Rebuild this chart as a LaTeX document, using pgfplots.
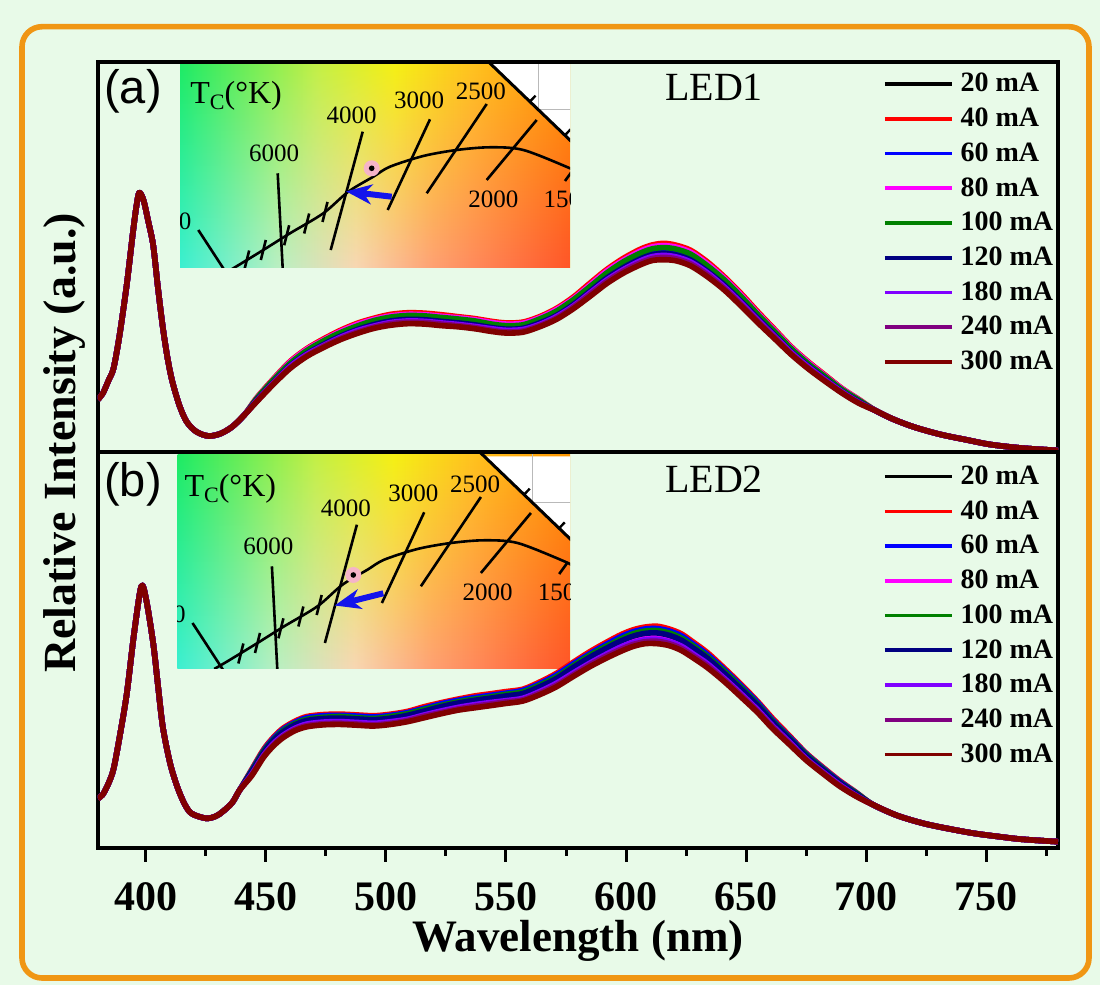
\documentclass[border=0pt]{standalone}
\usepackage{fontspec}
\setmainfont{Liberation Serif}
\newfontfamily\arialfont{Liberation Sans}
\usepackage{pgfplots}
\pgfplotsset{compat=1.18}
\usepackage{pgfplotstable}
\usetikzlibrary{fadings,arrows.meta}

\definecolor{bgc}{RGB}{232,250,232}
\definecolor{orangeb}{RGB}{240,150,20}
\definecolor{c20}{RGB}{0,0,0}
\definecolor{c40}{RGB}{255,0,0}
\definecolor{c60}{RGB}{0,0,255}
\definecolor{c80}{RGB}{255,0,255}
\definecolor{c100}{RGB}{0,128,0}
\definecolor{c120}{RGB}{0,0,128}
\definecolor{c180}{RGB}{128,0,255}
\definecolor{c240}{RGB}{128,0,128}
\definecolor{c300}{RGB}{128,0,0}
\definecolor{pinkdot}{RGB}{245,180,200}
\definecolor{arrowblue}{RGB}{20,20,235}

\definecolor{gt0}{RGB}{30,235,100}
\definecolor{gt1}{RGB}{195,240,70}
\definecolor{gt2}{RGB}{245,240,20}
\definecolor{gt3}{RGB}{255,195,30}
\definecolor{gt4}{RGB}{255,150,0}
\definecolor{gb0}{RGB}{60,240,210}
\definecolor{gb1}{RGB}{185,240,195}
\definecolor{gb2}{RGB}{248,215,180}
\definecolor{gb3}{RGB}{255,160,115}
\definecolor{gb4}{RGB}{255,85,40}
\pgfdeclarehorizontalshading{insettop}{100bp}{color(0bp)=(gt0); color(25bp)=(gt0); color(42.5bp)=(gt1); color(52.5bp)=(gt2); color(62.5bp)=(gt3); color(75bp)=(gt4); color(100bp)=(gt4)}
\pgfdeclarehorizontalshading{insetbot}{100bp}{color(0bp)=(gb0); color(25bp)=(gb0); color(37.5bp)=(gb1); color(47.5bp)=(gb2); color(57.5bp)=(gb3); color(75bp)=(gb4); color(100bp)=(gb4)}

\newcommand{\ciecommon}{%
  \fill[white] (310,0.3) -- (420,0.3) -- (420,106) -- cycle;
  \draw[gray!55, line width=0.7pt] (358.3,-5) -- (358.3,46.4) -- (420,46.4);
  \draw[black, line width=1.5pt] (305,-4.5) -- (420,106);
  \draw[black, line width=1.2pt] (350,38.5) -- (355.5,32.7);
  \draw[black, line width=1.2pt] (385,72.2) -- (390.5,66.4);
  \draw[black, line width=1.3pt] plot[smooth] coordinates {(40,213) (53.3,205.3) (83.3,187) (110,170.3) (143.3,150.3) (168.3,128.7) (193.3,113.7) (210,103.7) (243.3,93) (276.7,87) (310,84.3) (343.3,87) (390,105.3) (400,111)};
  \draw[black, line width=1.3pt] (97.7,110.3) -- (103.2,215);
  \draw[black, line width=1.3pt] (182.7,68.7) -- (150.7,187);
  \draw[black, line width=1.3pt] (250,56.3) -- (207.7,147);
  \draw[black, line width=1.3pt] (306.7,41) -- (246.7,130.3);
  \draw[black, line width=1.3pt] (356.7,57) -- (306.7,117);
  \draw[black, line width=1.3pt] (18.3,167) -- (49.6,215);
  \draw[black, line width=1.3pt] (385,118) -- (393,107);
  \foreach \tx/\ty in {66.7/197.5, 83.3/187, 106.7/172.3, 126.7/160.5, 145/149}{
    \draw[black, line width=1.3pt] (\tx+2.5,\ty-10) -- (\tx-2.5,\ty+10);}
  \node[anchor=base west, inner sep=0pt, font=\fontsize{16}{16}\selectfont] at (10,40.3) {T\raisebox{-3pt}{\fontsize{11}{11}\selectfont C}(°K)};
  \node[anchor=base, inner sep=0pt, font=\fontsize{12.5}{12.5}\selectfont] at (94.2,98.6) {6000};
  \node[anchor=base, inner sep=0pt, font=\fontsize{12.5}{12.5}\selectfont] at (171.7,60.3) {4000};
  \node[anchor=base, inner sep=0pt, font=\fontsize{12.5}{12.5}\selectfont] at (239.2,45.3) {3000};
  \node[anchor=base, inner sep=0pt, font=\fontsize{12.5}{12.5}\selectfont] at (300.8,37) {2500};
  \node[anchor=base, inner sep=0pt, font=\fontsize{12.5}{12.5}\selectfont] at (313.3,144.6) {2000};
  \node[anchor=base west, inner sep=0pt, font=\fontsize{12.5}{12.5}\selectfont] at (363.3,144.6) {1500};
  \node[anchor=base east, inner sep=0pt, font=\fontsize{12.5}{12.5}\selectfont] at (11.7,167) {10000};
}

\pgfplotstableread{
lam c20 c40 c60 c80 c100 c120 c180 c240 c300
380 0.135 0.135 0.135 0.135 0.135 0.135 0.135 0.135 0.135
382 0.150 0.150 0.150 0.150 0.150 0.150 0.150 0.150 0.150
384.5 0.185 0.185 0.185 0.185 0.185 0.185 0.185 0.185 0.185
386.5 0.215 0.215 0.215 0.215 0.215 0.215 0.215 0.215 0.215
389 0.300 0.300 0.300 0.300 0.300 0.300 0.300 0.300 0.300
392 0.430 0.430 0.430 0.430 0.430 0.430 0.430 0.430 0.430
394.5 0.560 0.560 0.560 0.560 0.560 0.560 0.560 0.560 0.560
396 0.630 0.630 0.630 0.630 0.630 0.630 0.630 0.630 0.630
397.2 0.665 0.665 0.665 0.665 0.665 0.665 0.665 0.665 0.665
399 0.645 0.645 0.645 0.645 0.645 0.645 0.645 0.645 0.645
401 0.590 0.590 0.590 0.590 0.590 0.590 0.590 0.590 0.590
403 0.530 0.530 0.530 0.530 0.530 0.530 0.530 0.530 0.530
405 0.420 0.420 0.420 0.420 0.420 0.420 0.420 0.420 0.420
407 0.320 0.320 0.320 0.320 0.320 0.320 0.320 0.320 0.320
409 0.240 0.240 0.240 0.240 0.240 0.240 0.240 0.240 0.240
411 0.180 0.180 0.180 0.180 0.180 0.180 0.180 0.180 0.180
414 0.118 0.118 0.118 0.118 0.118 0.118 0.118 0.118 0.118
417 0.077 0.077 0.077 0.077 0.077 0.077 0.077 0.077 0.077
421 0.052 0.052 0.052 0.052 0.052 0.052 0.052 0.052 0.052
426 0.041 0.041 0.041 0.041 0.041 0.041 0.041 0.041 0.041
431 0.047 0.047 0.047 0.047 0.047 0.047 0.047 0.047 0.047
436 0.065 0.065 0.065 0.065 0.065 0.065 0.065 0.065 0.065
441 0.095 0.095 0.095 0.095 0.095 0.095 0.095 0.095 0.095
446 0.133 0.138 0.134 0.137 0.136 0.132 0.130 0.129 0.128
453 0.180 0.187 0.182 0.185 0.184 0.178 0.176 0.175 0.173
460 0.223 0.232 0.225 0.230 0.227 0.221 0.219 0.216 0.214
467 0.255 0.265 0.258 0.263 0.260 0.252 0.250 0.247 0.245
474 0.279 0.290 0.282 0.287 0.285 0.276 0.273 0.271 0.268
481 0.300 0.312 0.303 0.309 0.306 0.297 0.294 0.291 0.288
488 0.317 0.330 0.320 0.327 0.323 0.314 0.311 0.307 0.304
495 0.330 0.343 0.333 0.340 0.337 0.327 0.323 0.320 0.317
502 0.339 0.353 0.342 0.349 0.346 0.336 0.332 0.329 0.325
509 0.343 0.357 0.346 0.353 0.350 0.340 0.336 0.333 0.329
516 0.342 0.356 0.345 0.352 0.349 0.339 0.335 0.332 0.328
523 0.338 0.352 0.341 0.348 0.345 0.335 0.331 0.328 0.324
530 0.334 0.347 0.337 0.344 0.341 0.331 0.327 0.324 0.321
537 0.329 0.342 0.332 0.339 0.336 0.326 0.322 0.319 0.316
544 0.322 0.335 0.325 0.332 0.328 0.319 0.316 0.312 0.309
550 0.318 0.331 0.321 0.328 0.324 0.315 0.312 0.308 0.305
557 0.320 0.333 0.323 0.330 0.326 0.317 0.314 0.310 0.307
564 0.334 0.347 0.337 0.344 0.341 0.331 0.327 0.324 0.321
571 0.354 0.368 0.358 0.365 0.361 0.350 0.347 0.343 0.340
578 0.382 0.397 0.386 0.393 0.390 0.378 0.374 0.371 0.367
585 0.416 0.433 0.420 0.428 0.424 0.412 0.408 0.404 0.399
592 0.450 0.468 0.455 0.464 0.459 0.446 0.441 0.437 0.432
599 0.478 0.497 0.483 0.492 0.488 0.473 0.468 0.464 0.459
606 0.500 0.520 0.505 0.515 0.510 0.495 0.490 0.485 0.480
611 0.511 0.531 0.516 0.526 0.521 0.506 0.501 0.496 0.491
616 0.514 0.535 0.519 0.529 0.524 0.509 0.504 0.499 0.493
621 0.510 0.530 0.515 0.525 0.520 0.505 0.500 0.495 0.490
627 0.497 0.517 0.502 0.512 0.507 0.492 0.487 0.482 0.477
634 0.468 0.487 0.473 0.482 0.477 0.463 0.459 0.454 0.449
641 0.432 0.449 0.436 0.445 0.441 0.428 0.423 0.419 0.415
648 0.390 0.406 0.394 0.402 0.398 0.386 0.382 0.378 0.374
655 0.345 0.359 0.348 0.355 0.352 0.342 0.338 0.335 0.331
662 0.302 0.314 0.305 0.311 0.308 0.299 0.296 0.293 0.290
669 0.259 0.269 0.262 0.267 0.264 0.256 0.254 0.251 0.249
676 0.222 0.231 0.224 0.229 0.226 0.220 0.218 0.215 0.213
683 0.189 0.197 0.191 0.195 0.193 0.187 0.185 0.183 0.181
690 0.157 0.163 0.159 0.162 0.160 0.155 0.154 0.152 0.151
697 0.130 0.135 0.131 0.134 0.133 0.129 0.127 0.126 0.125
704 0.106 0.106 0.106 0.106 0.106 0.106 0.106 0.106 0.106
711 0.085 0.085 0.085 0.085 0.085 0.085 0.085 0.085 0.085
720 0.064 0.064 0.064 0.064 0.064 0.064 0.064 0.064 0.064
731 0.045 0.045 0.045 0.045 0.045 0.045 0.045 0.045 0.045
742 0.031 0.031 0.031 0.031 0.031 0.031 0.031 0.031 0.031
752 0.019 0.019 0.019 0.019 0.019 0.019 0.019 0.019 0.019
765 0.010 0.010 0.010 0.010 0.010 0.010 0.010 0.010 0.010
780 0.004 0.004 0.004 0.004 0.004 0.004 0.004 0.004 0.004
}\toptab

\pgfplotstableread{
lam c20 c40 c60 c80 c100 c120 c180 c240 c300
380 0.125 0.125 0.125 0.125 0.125 0.125 0.125 0.125 0.125
382 0.135 0.135 0.135 0.135 0.135 0.135 0.135 0.135 0.135
384.5 0.165 0.165 0.165 0.165 0.165 0.165 0.165 0.165 0.165
386.5 0.200 0.200 0.200 0.200 0.200 0.200 0.200 0.200 0.200
389 0.280 0.280 0.280 0.280 0.280 0.280 0.280 0.280 0.280
392 0.390 0.390 0.390 0.390 0.390 0.390 0.390 0.390 0.390
395 0.540 0.540 0.540 0.540 0.540 0.540 0.540 0.540 0.540
398 0.660 0.660 0.660 0.660 0.660 0.660 0.660 0.660 0.660
400 0.630 0.630 0.630 0.630 0.630 0.630 0.630 0.630 0.630
403 0.517 0.517 0.517 0.517 0.517 0.517 0.517 0.517 0.517
405 0.410 0.410 0.410 0.410 0.410 0.410 0.410 0.410 0.410
407 0.306 0.306 0.306 0.306 0.306 0.306 0.306 0.306 0.306
410 0.215 0.215 0.215 0.215 0.215 0.215 0.215 0.215 0.215
413 0.155 0.155 0.155 0.155 0.155 0.155 0.155 0.155 0.155
416 0.112 0.112 0.112 0.112 0.112 0.112 0.112 0.112 0.112
419 0.087 0.087 0.087 0.087 0.087 0.087 0.087 0.087 0.087
425 0.075 0.075 0.075 0.075 0.075 0.075 0.075 0.075 0.075
429 0.080 0.080 0.080 0.080 0.080 0.080 0.080 0.080 0.080
432 0.092 0.092 0.092 0.092 0.092 0.092 0.092 0.092 0.092
436 0.115 0.115 0.115 0.115 0.115 0.115 0.115 0.115 0.115
439 0.146 0.146 0.146 0.146 0.146 0.146 0.146 0.146 0.146
444 0.190 0.198 0.196 0.188 0.194 0.192 0.186 0.184 0.182
449 0.239 0.249 0.246 0.237 0.244 0.241 0.234 0.232 0.229
453 0.268 0.279 0.276 0.265 0.273 0.271 0.263 0.260 0.257
457 0.290 0.302 0.299 0.287 0.296 0.293 0.284 0.281 0.278
462 0.308 0.320 0.317 0.305 0.314 0.311 0.302 0.299 0.296
467 0.319 0.332 0.329 0.316 0.325 0.322 0.313 0.309 0.306
474 0.324 0.337 0.334 0.321 0.330 0.327 0.318 0.314 0.311
481 0.325 0.338 0.335 0.322 0.332 0.328 0.319 0.315 0.312
488 0.323 0.336 0.333 0.320 0.329 0.326 0.317 0.313 0.310
495 0.321 0.334 0.331 0.318 0.327 0.324 0.315 0.311 0.308
502 0.325 0.338 0.335 0.322 0.332 0.328 0.319 0.315 0.312
509 0.332 0.345 0.342 0.329 0.339 0.335 0.325 0.322 0.319
516 0.343 0.357 0.353 0.340 0.350 0.346 0.336 0.333 0.329
523 0.353 0.367 0.364 0.349 0.360 0.357 0.346 0.342 0.339
530 0.362 0.376 0.373 0.358 0.369 0.366 0.355 0.351 0.348
537 0.369 0.384 0.380 0.365 0.376 0.373 0.362 0.358 0.354
543 0.374 0.389 0.385 0.370 0.381 0.378 0.367 0.363 0.359
550 0.380 0.395 0.391 0.376 0.388 0.384 0.372 0.369 0.365
557 0.386 0.401 0.398 0.382 0.394 0.390 0.378 0.374 0.371
564 0.403 0.419 0.415 0.399 0.411 0.407 0.395 0.391 0.387
571 0.424 0.441 0.437 0.420 0.432 0.428 0.416 0.411 0.407
578 0.451 0.469 0.465 0.446 0.460 0.456 0.442 0.437 0.433
585 0.477 0.496 0.491 0.472 0.487 0.482 0.467 0.463 0.458
592 0.500 0.520 0.515 0.495 0.510 0.505 0.490 0.485 0.480
598 0.518 0.539 0.534 0.513 0.528 0.523 0.508 0.502 0.497
603 0.530 0.551 0.546 0.525 0.541 0.535 0.519 0.514 0.509
608 0.537 0.558 0.553 0.532 0.548 0.542 0.526 0.521 0.516
613 0.538 0.560 0.554 0.533 0.549 0.543 0.527 0.522 0.516
618 0.532 0.553 0.548 0.527 0.543 0.537 0.521 0.516 0.511
623 0.520 0.541 0.536 0.515 0.530 0.525 0.510 0.504 0.499
628 0.500 0.520 0.515 0.495 0.510 0.505 0.490 0.485 0.480
634 0.474 0.493 0.488 0.469 0.483 0.479 0.465 0.460 0.455
641 0.437 0.454 0.450 0.433 0.446 0.441 0.428 0.424 0.420
648 0.397 0.413 0.409 0.393 0.405 0.401 0.389 0.385 0.381
655 0.355 0.369 0.366 0.351 0.362 0.359 0.348 0.344 0.341
661 0.315 0.328 0.324 0.312 0.321 0.318 0.309 0.306 0.302
668 0.273 0.284 0.281 0.270 0.278 0.276 0.268 0.265 0.262
675 0.231 0.240 0.238 0.229 0.236 0.233 0.226 0.224 0.222
682 0.196 0.204 0.202 0.194 0.200 0.198 0.192 0.190 0.188
689 0.163 0.170 0.168 0.161 0.166 0.165 0.160 0.158 0.156
696 0.135 0.140 0.139 0.134 0.138 0.136 0.132 0.131 0.130
703 0.109 0.109 0.109 0.109 0.109 0.109 0.109 0.109 0.109
713 0.082 0.082 0.082 0.082 0.082 0.082 0.082 0.082 0.082
724 0.062 0.062 0.062 0.062 0.062 0.062 0.062 0.062 0.062
735 0.048 0.048 0.048 0.048 0.048 0.048 0.048 0.048 0.048
745 0.037 0.037 0.037 0.037 0.037 0.037 0.037 0.037 0.037
755 0.029 0.029 0.029 0.029 0.029 0.029 0.029 0.029 0.029
765 0.022 0.022 0.022 0.022 0.022 0.022 0.022 0.022 0.022
780 0.016 0.016 0.016 0.016 0.016 0.016 0.016 0.016 0.016
}\bottab

\pgfplotsset{
  spec/.style={
    scale only axis, width=480pt, xmin=380, xmax=780, ymin=0, ymax=1,
    ytick=\empty, axis line style={line width=2pt}, no markers,
    every axis plot/.append style={line width=2.8pt, line join=round, smooth, tension=0.5},
    legend cell align=left,
    legend image code/.code={\draw[##1, line width=1.8pt, sharp plot] (0pt,0pt) -- (33.5pt,0pt);},
  },
  legsty/.style={legend style={at={(0.8177,#1)}, anchor=north west, draw=none, fill=none,
    inner sep=0pt, outer sep=0pt, row sep=6.55pt,
    font=\fontsize{14}{14}\selectfont\bfseries,
    nodes={inner sep=0pt},
    /tikz/every odd column/.append style={column sep=3.5pt}}},
}

\newcommand{\allplots}[1]{%
  \addplot[c20] table[x=lam,y=c20]{#1}; \addlegendentry{20 mA}
  \addplot[c40] table[x=lam,y=c40]{#1}; \addlegendentry{40 mA}
  \addplot[c60] table[x=lam,y=c60]{#1}; \addlegendentry{60 mA}
  \addplot[c80] table[x=lam,y=c80]{#1}; \addlegendentry{80 mA}
  \addplot[c100] table[x=lam,y=c100]{#1}; \addlegendentry{100 mA}
  \addplot[c120] table[x=lam,y=c120]{#1}; \addlegendentry{120 mA}
  \addplot[c180] table[x=lam,y=c180]{#1}; \addlegendentry{180 mA}
  \addplot[c240] table[x=lam,y=c240]{#1}; \addlegendentry{240 mA}
  \addplot[c300] table[x=lam,y=c300]{#1}; \addlegendentry{300 mA}
}

\begin{document}
\begin{tikzpicture}[x=0.5pt,y=0.5pt]
\fill[bgc] (0,0) rectangle (1100,985);
\draw[orangeb, line width=2.8pt, rounded corners=10pt] (22,7) rectangle (1089,958.3);

% inset (a)
\begin{scope}
  \clip (180,717) rectangle (570,922);
  \shade[shading=insettop] (180,717) rectangle (570,922);
  \shade[shading=insetbot, path fading=north] (180,717) rectangle (570,922);
  \begin{scope}[shift={(180,922)}, yscale=-1]
    \ciecommon
    \fill[pinkdot] (191.7,105.3) circle (8);
    \fill[black] (191.7,105.3) circle (2.8);
    \draw[arrowblue, line width=3pt, -{Stealth[length=13pt,width=10pt,inset=4pt]}] (211.7,133.7) -- (166,128.4);
  \end{scope}
\end{scope}

% inset (b)
\begin{scope}
  \clip (177.7,316) rectangle (570,530);
  \shade[shading=insettop] (177.7,316) rectangle (570,530);
  \shade[shading=insetbot, path fading=north] (177.7,316) rectangle (570,530);
  \begin{scope}[shift={(174.2,529)}, yscale=-1]
    \ciecommon
    \fill[pinkdot] (179.1,119) circle (8);
    \fill[black] (179.1,119) circle (2.8);
    \draw[arrowblue, line width=3pt, -{Stealth[length=13pt,width=10pt,inset=4pt]}] (209.1,137.3) -- (160.5,149.5);
  \end{scope}
\end{scope}

\begin{axis}[spec, legsty=0.971, at={(49pt,266.5pt)}, anchor=south west, height=195pt, xtick=\empty]
\allplots{\toptab}
\end{axis}

\begin{axis}[spec, legsty=0.965, at={(49pt,68.5pt)}, anchor=south west, height=198pt,
  xtick={400,450,...,750}, minor xtick={425,475,...,775},
  xtick pos=lower, tick align=outside,
  major tick length=7pt, minor tick length=4pt,
  every tick/.style={black, line width=1.5pt},
  /pgf/number format/assume math mode=true,
  xticklabel style={font=\fontsize{21}{21}\selectfont\bfseries, yshift=-7pt},
  xlabel={Wavelength (nm)},
  xlabel style={at={(axis description cs:0.5,-0.2348)}, anchor=center, inner sep=0pt, font=\fontsize{22.5}{22.5}\selectfont\bfseries}]
\allplots{\bottab}
\end{axis}

\node[rotate=90, inner sep=0pt, font=\fontsize{23}{23}\selectfont\bfseries] at (65,542) {Relative Intensity (a.u.)};
\node[inner sep=0pt, font=\arialfont\fontsize{23.5}{23.5}\selectfont] at (133,893.5) {(a)};
\node[inner sep=0pt, font=\arialfont\fontsize{23.5}{23.5}\selectfont] at (133,501) {(b)};
\node[anchor=base, inner sep=0pt, font=\fontsize{20}{20}\selectfont] at (714,884.3) {LED1};
\node[anchor=base, inner sep=0pt, font=\fontsize{20}{20}\selectfont] at (714,492) {LED2};

\pgfresetboundingbox
\path[use as bounding box] (0,0) rectangle (1100,985);
\end{tikzpicture}
\end{document}
